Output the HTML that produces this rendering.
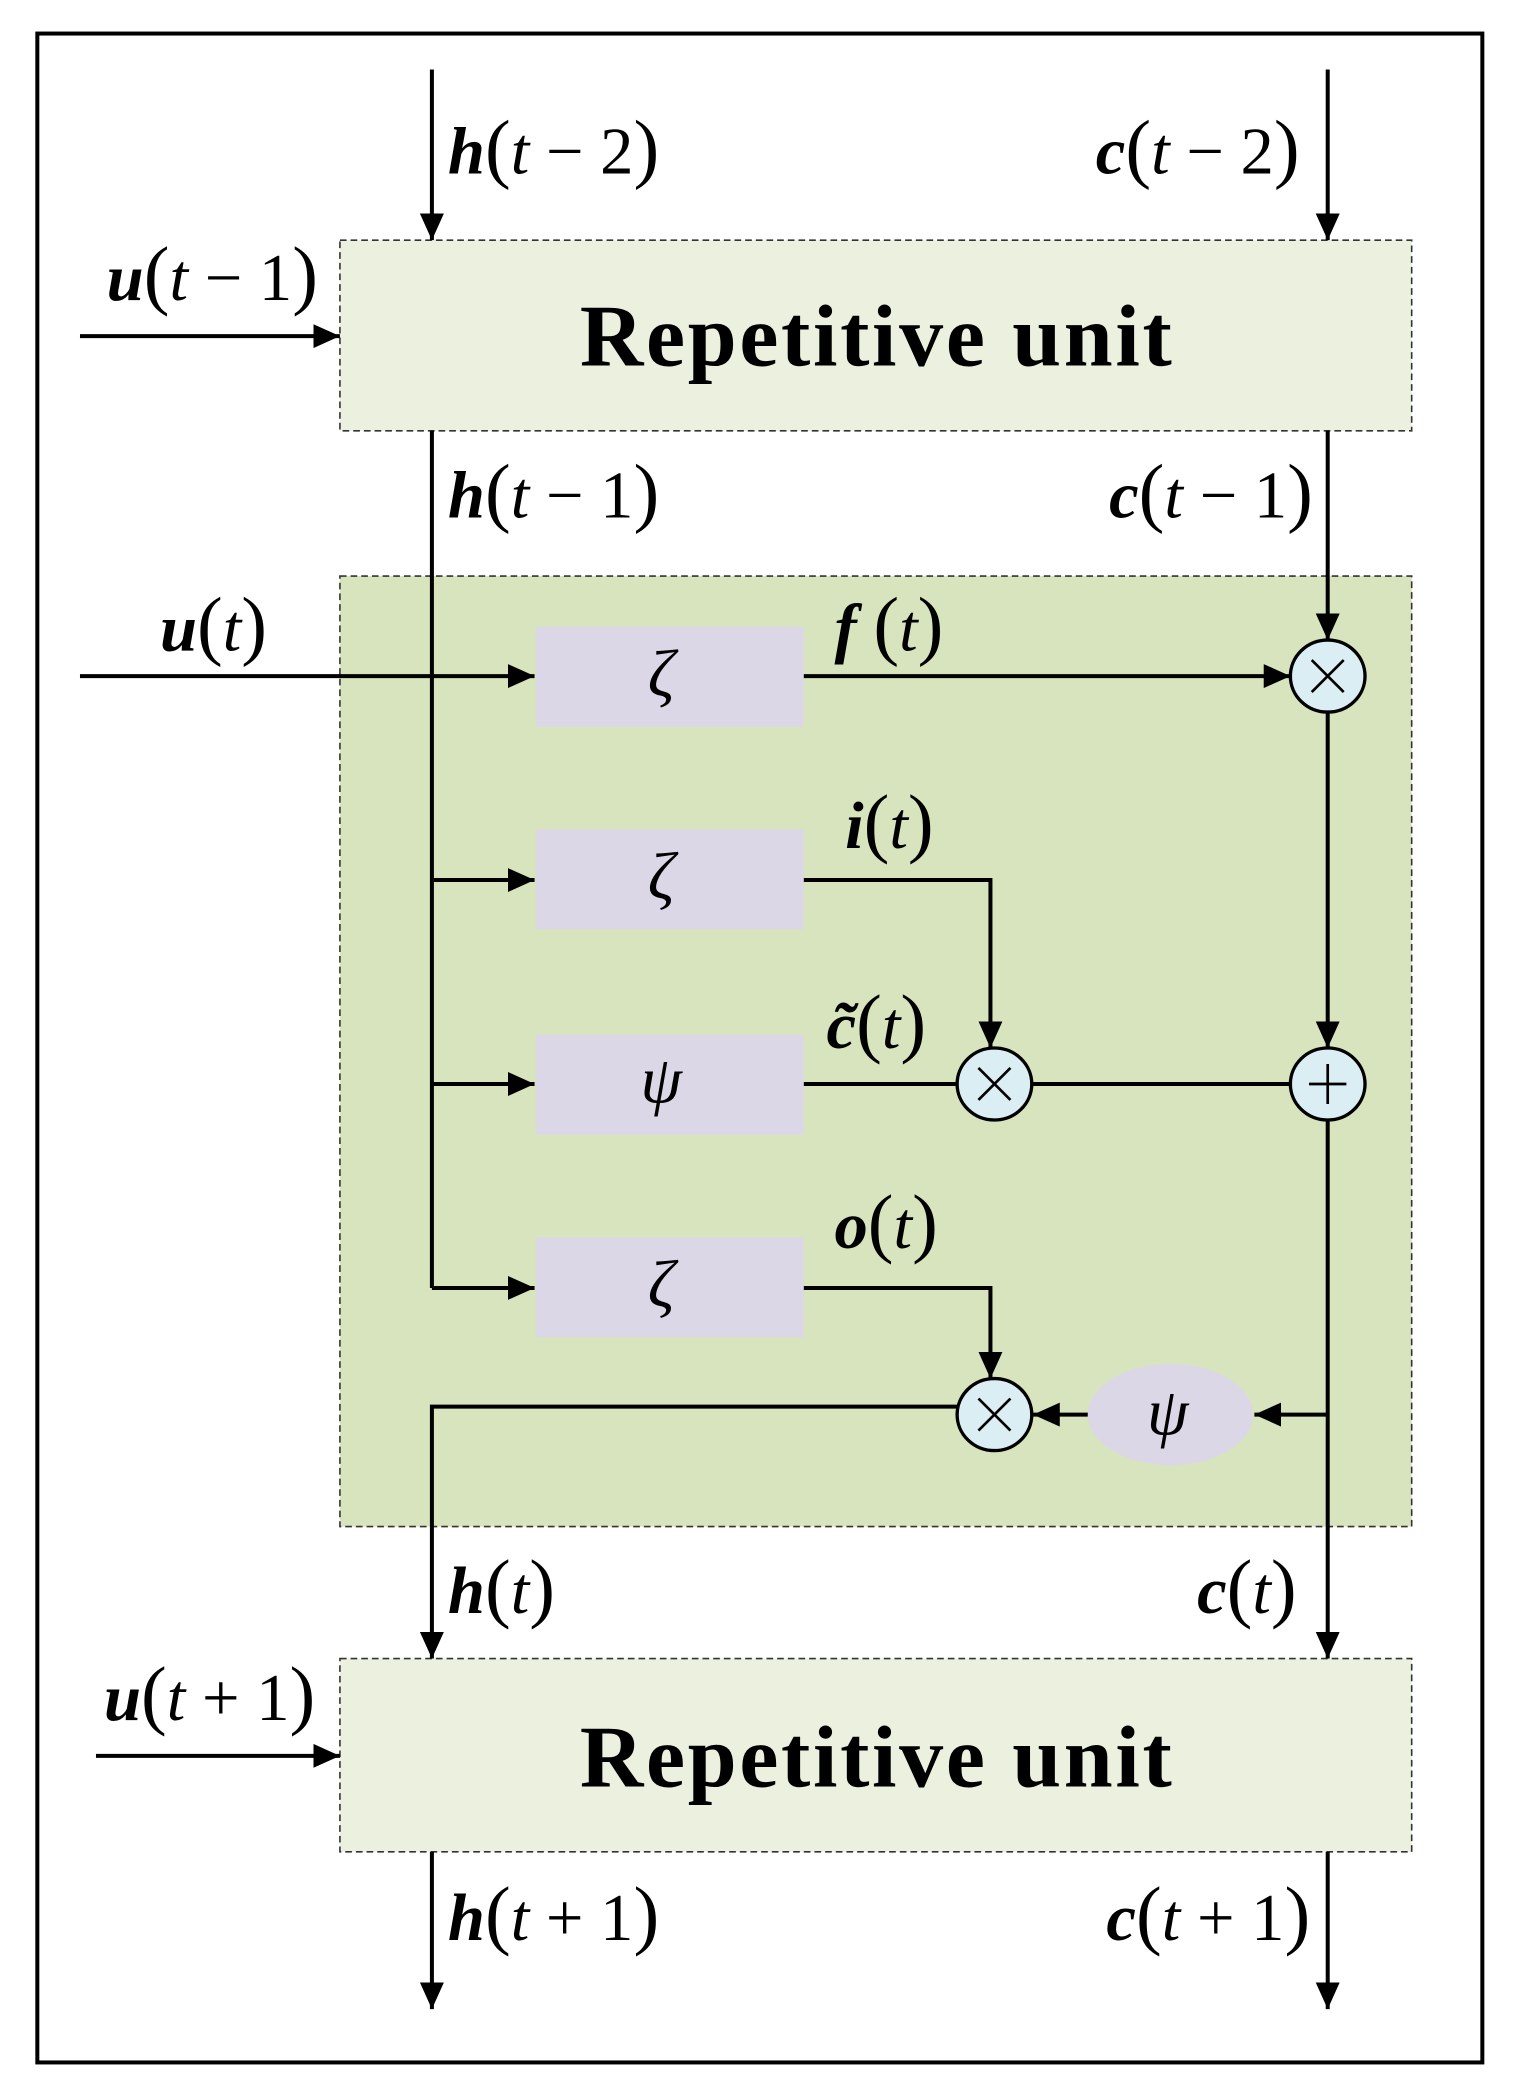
<!DOCTYPE html>
<html><head><meta charset="utf-8"><style>
html,body{margin:0;padding:0;background:#fff}
svg{display:block}
.l{font-family:"Liberation Serif",serif;font-size:50px}
.v{font-weight:bold;font-style:italic}
.t{font-style:italic}
.p{font-size:58px}
</style></head><body>
<svg width="1513" height="2088" viewBox="0 0 1135 1566" xmlns="http://www.w3.org/2000/svg">
<defs>
<marker id="a" markerWidth="20" markerHeight="18" refX="20" refY="9" orient="auto" markerUnits="userSpaceOnUse" viewBox="0 0 20 18">
<path d="M0,0 L20,9 L0,18 z" fill="#000"/></marker>
</defs>
<style>
.ar{marker-end:url(#a)}
</style>
<rect x="0" y="0" width="1135" height="1566" fill="#fff"/>
<rect x="28" y="25" width="1084" height="1522" fill="none" stroke="#000" stroke-width="3"/>
<rect x="255" y="180" width="804" height="143" fill="#ebf1de" stroke="#333" stroke-width="1.2" stroke-dasharray="5,3"/>
<rect x="255" y="432" width="804" height="713" fill="#d7e4bd" stroke="#333" stroke-width="1.2" stroke-dasharray="5,3"/>
<rect x="255" y="1244" width="804" height="145" fill="#ebf1de" stroke="#333" stroke-width="1.2" stroke-dasharray="5,3"/>
<text x="658" y="274" text-anchor="middle" font-family="Liberation Serif,serif" font-weight="bold" font-size="66" letter-spacing="2">Repetitive unit</text>
<text x="658" y="1340" text-anchor="middle" font-family="Liberation Serif,serif" font-weight="bold" font-size="66" letter-spacing="2">Repetitive unit</text>
<g fill="#dcd7e6">
<rect x="402" y="470" width="201" height="75"/>
<rect x="402" y="622" width="201" height="75"/>
<rect x="402" y="776" width="201" height="75"/>
<rect x="402" y="928" width="201" height="75"/>
<ellipse cx="878" cy="1061" rx="62" ry="38"/>
</g>
<g class="l t" text-anchor="middle" font-size="44">
<text x="496" y="522">ζ</text>
<text x="496" y="674">ζ</text>
<text x="496" y="827">ψ</text>
<text x="496" y="980">ζ</text>
<text x="876" y="1076">ψ</text>
</g>
<g stroke="#000" stroke-width="3" fill="none">
<line x1="324" y1="52" x2="324" y2="180" class="ar"/>
<line x1="996" y1="52" x2="996" y2="180" class="ar"/>
<line x1="60" y1="252" x2="255" y2="252" class="ar"/>
<line x1="324" y1="323" x2="324" y2="966"/>
<line x1="60" y1="507" x2="401" y2="507" class="ar"/>
<line x1="324" y1="660" x2="401" y2="660" class="ar"/>
<line x1="324" y1="813" x2="401" y2="813" class="ar"/>
<line x1="324" y1="966" x2="401" y2="966" class="ar"/>
<line x1="996" y1="323" x2="996" y2="480" class="ar"/>
<line x1="603" y1="507" x2="968" y2="507" class="ar"/>
<line x1="996" y1="534" x2="996" y2="786" class="ar"/>
<polyline points="603,660 743,660 743,786" class="ar"/>
<line x1="603" y1="813" x2="718" y2="813"/>
<line x1="775" y1="813" x2="968" y2="813"/>
<line x1="996" y1="840" x2="996" y2="1244" class="ar"/>
<polyline points="603,966 743,966 743,1034" class="ar"/>
<line x1="996" y1="1061" x2="941" y2="1061" class="ar"/>
<line x1="816" y1="1061" x2="775" y2="1061" class="ar"/>
<polyline points="718,1055 324,1055 324,1244" class="ar"/>
<line x1="72" y1="1317" x2="255" y2="1317" class="ar"/>
<line x1="324" y1="1389" x2="324" y2="1507" class="ar"/>
<line x1="996" y1="1389" x2="996" y2="1507" class="ar"/>
</g>
<g stroke="#000" stroke-width="2.5" fill="#dbeef4">
<ellipse cx="996" cy="507" rx="28" ry="27"/>
<ellipse cx="996" cy="813" rx="28" ry="27"/>
<ellipse cx="746" cy="813" rx="28" ry="27"/>
<ellipse cx="746" cy="1061" rx="28" ry="27"/>
</g>
<g stroke="#000" stroke-width="2">
<path d="M984,495 L1008,519 M1008,495 L984,519"/>
<path d="M734,801 L758,825 M758,801 L734,825"/>
<path d="M734,1049 L758,1073 M758,1049 L734,1073"/>
<path d="M982,813 L1010,813 M996,798 L996,828"/>
</g>
<g class="l">
<text x="336" y="130"><tspan class="v">h</tspan><tspan class="p">(</tspan><tspan class="t">t</tspan> − 2<tspan class="p">)</tspan></text>
<text x="822" y="130"><tspan class="v">c</tspan><tspan class="p">(</tspan><tspan class="t">t</tspan> − 2<tspan class="p">)</tspan></text>
<text x="80" y="225"><tspan class="v">u</tspan><tspan class="p">(</tspan><tspan class="t">t</tspan> − 1<tspan class="p">)</tspan></text>
<text x="336" y="388"><tspan class="v">h</tspan><tspan class="p">(</tspan><tspan class="t">t</tspan> − 1<tspan class="p">)</tspan></text>
<text x="832" y="388"><tspan class="v">c</tspan><tspan class="p">(</tspan><tspan class="t">t</tspan> − 1<tspan class="p">)</tspan></text>
<text x="120" y="488"><tspan class="v">u</tspan><tspan class="p">(</tspan><tspan class="t">t</tspan><tspan class="p">)</tspan></text>
<text x="626" y="488"><tspan class="v">f</tspan> <tspan class="p">(</tspan><tspan class="t">t</tspan><tspan class="p">)</tspan></text>
<text x="634" y="636"><tspan class="v">i</tspan><tspan class="p">(</tspan><tspan class="t">t</tspan><tspan class="p">)</tspan></text>
<text x="620" y="786"><tspan class="v">c̃</tspan><tspan class="p">(</tspan><tspan class="t">t</tspan><tspan class="p">)</tspan></text>
<text x="626" y="936"><tspan class="v">o</tspan><tspan class="p">(</tspan><tspan class="t">t</tspan><tspan class="p">)</tspan></text>
<text x="336" y="1210"><tspan class="v">h</tspan><tspan class="p">(</tspan><tspan class="t">t</tspan><tspan class="p">)</tspan></text>
<text x="898" y="1210"><tspan class="v">c</tspan><tspan class="p">(</tspan><tspan class="t">t</tspan><tspan class="p">)</tspan></text>
<text x="78" y="1290"><tspan class="v">u</tspan><tspan class="p">(</tspan><tspan class="t">t</tspan> + 1<tspan class="p">)</tspan></text>
<text x="336" y="1455"><tspan class="v">h</tspan><tspan class="p">(</tspan><tspan class="t">t</tspan> + 1<tspan class="p">)</tspan></text>
<text x="830" y="1455"><tspan class="v">c</tspan><tspan class="p">(</tspan><tspan class="t">t</tspan> + 1<tspan class="p">)</tspan></text>
</g>
</svg>
</body></html>
